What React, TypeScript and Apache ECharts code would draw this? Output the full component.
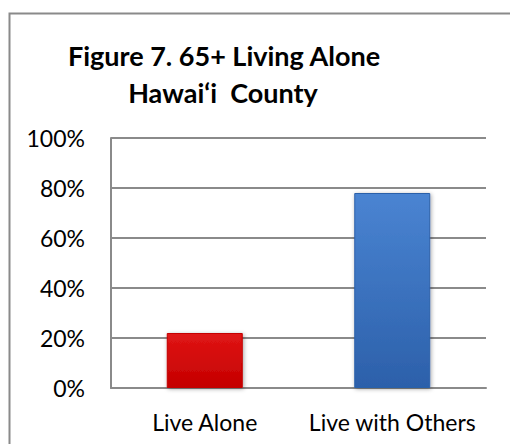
import React, { useEffect, useRef } from "react";
import * as echarts from "echarts";

const categories = ["Live Alone", "Live with Others"];
const values = [0.22, 0.78];
const titleLines = ["Figure 7. 65+ Living Alone", "Hawai‘i  County"];
const barColors = [
  ["#E01515", "#C40000"],
  ["#4A84D2", "#2C60AA"],
];

export default function App() {
  const ref = useRef<HTMLDivElement>(null);
  useEffect(() => {
    if (!ref.current) return;
    const chart = echarts.init(ref.current, null, { renderer: "svg" });
    const font = "Lato, 'Open Sans', sans-serif";
    chart.setOption({
      animation: false,
      backgroundColor: "#ffffff",
      graphic: [
        {
          type: "rect",
          shape: { x: 9.5, y: 13.5, width: 520, height: 460 },
          style: { fill: "none", stroke: "#8a8a8a", lineWidth: 2 },
          silent: true,
        },
        {
          type: "text",
          x: 224,
          y: 55,
          style: {
            text: titleLines[0],
            font: `bold 27px ${font}`,
            fill: "#000",
            textAlign: "center",
            textVerticalAlign: "middle",
          },
        },
        {
          type: "text",
          x: 223,
          y: 92,
          style: {
            text: titleLines[1],
            font: `bold 27px ${font}`,
            fill: "#000",
            textAlign: "center",
            textVerticalAlign: "middle",
          },
        },
      ],
      grid: { left: 111, right: 24, top: 138, bottom: 56 },
      xAxis: {
        type: "category",
        data: categories,
        axisLine: { show: true, lineStyle: { color: "#8a8a8a", width: 2 } },
        axisTick: { show: false },
        axisLabel: { color: "#000", fontSize: 23, fontFamily: font, margin: 22, interval: 0 },
      },
      yAxis: {
        type: "value",
        min: 0,
        max: 1,
        interval: 0.2,
        axisLine: { show: true, lineStyle: { color: "#8a8a8a", width: 2 } },
        axisTick: { show: false },
        splitLine: { show: true, lineStyle: { color: "#8a8a8a", width: 2 } },
        axisLabel: {
          color: "#000",
          fontSize: 23,
          fontFamily: font,
          margin: 26,
          formatter: (v: number) => `${Math.round(v * 100)}%`,
        },
      },
      series: [
        {
          type: "bar",
          barWidth: 76,
          data: values.map((v, i) => ({
            value: v,
            itemStyle: {
              color: new echarts.graphic.LinearGradient(0, 0, 0, 1, [
                { offset: 0, color: barColors[i][0] },
                { offset: 1, color: barColors[i][1] },
              ]),
              borderColor: barColors[i][1],
              borderWidth: 1,
              shadowColor: "rgba(0,0,0,0.35)",
              shadowBlur: 4,
              shadowOffsetX: 1,
              shadowOffsetY: 1,
            },
          })),
        },
      ],
    });
    return () => chart.dispose();
  }, []);
  return (
    <div
      ref={ref}
      style={{ position: "fixed", left: 0, top: 0, width: 510, height: 444 }}
    />
  );
}
